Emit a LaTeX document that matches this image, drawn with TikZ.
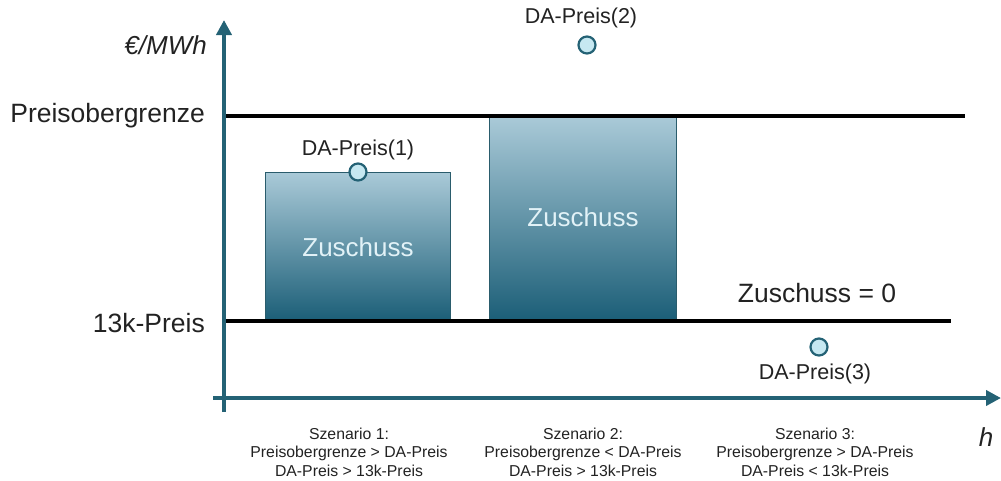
\documentclass[tikz,border=0pt]{standalone}
\usepackage{fontspec}
\setmainfont{Liberation Sans}
\usetikzlibrary{arrows.meta}
\definecolor{axisteal}{HTML}{246275}
\definecolor{boxtop}{HTML}{AACAD8}
\definecolor{boxbot}{HTML}{1B5E77}
\definecolor{boxedge}{HTML}{2A5C6C}
\definecolor{dotfill}{HTML}{C6E8F1}
\definecolor{zutext}{HTML}{E2F2F7}
\definecolor{txt}{HTML}{222222}
\tikzset{
  axisline/.style={draw=axisteal, line width=4.5pt, -{Triangle[length=15pt,width=15pt]}},
  levelline/.style={draw=black, line width=4pt},
  zbox/.style={draw=boxedge, line width=1pt, top color=boxtop, bottom color=boxbot},
  dot/.style={circle, draw=axisteal, line width=2.2pt, fill=dotfill, minimum size=17pt, inner sep=0pt},
  biglabel/.style={font=\fontsize{26.5}{30}\selectfont, text=txt, inner sep=0pt},
  dalabel/.style={font=\fontsize{21.5}{25}\selectfont, text=txt, inner sep=0pt},
  zulabel/.style={font=\fontsize{26}{30}\selectfont, text=zutext, inner sep=0pt},
  scen/.style={font=\fontsize{15.8}{18.5}\selectfont, text=txt, align=center, inner sep=0pt},
}
\begin{document}
\begin{tikzpicture}[x=1pt,y=-1pt]
\useasboundingbox (0,0) rectangle (1001,480);
% boxes
\path[zbox] (265,172) rectangle (450,321);
\path[zbox] (489,116) rectangle (676,321);
\node[zulabel] (z1) at (358,247) {Zuschuss};
\node[zulabel] (z2) at (583,217) {Zuschuss};
% level lines
\coordinate (po1) at (225,116);
\coordinate (po2) at (965,116);
\coordinate (k1) at (225,321);
\coordinate (k2) at (951,321);
\draw[levelline] (po1) -- (po2);
\draw[levelline] (k1) -- (k2);
% axes
\coordinate (yb) at (224,412);
\coordinate (yt) at (224,20);
\coordinate (xl) at (213,398);
\coordinate (xr) at (1001,398);
\draw[axisline] (yb) -- (yt);
\draw[axisline] (xl) -- (xr);
% axis labels
\node[biglabel, anchor=east, font=\fontsize{26}{30}\selectfont\itshape] (yl) at (207,45) {€/MWh};
\node[biglabel, font=\fontsize{26}{30}\selectfont\itshape] (hl) at (986,437) {h};
\node[biglabel, anchor=east] (pl) at (205,116) {Preisobergrenze};
\node[biglabel, anchor=east] (kl) at (205,323) {13k-Preis};
% dots
\node[dot] (d1) at (358,172) {};
\node[dalabel] (d1l) at (358,150) {DA-Preis(1)};
\node[dot] (d2) at (587,45) {};
\node[dalabel] (d2l) at (581,18) {DA-Preis(2)};
\node[dot] (d3) at (819,347) {};
\node[dalabel] (d3l) at (815,374) {DA-Preis(3)};
\node[biglabel] (z0) at (817,293) {Zuschuss = 0};
% scenarios
\node[scen] (s1) at (349,452) {Szenario 1:\\Preisobergrenze > DA-Preis\\DA-Preis > 13k-Preis};
\node[scen] (s2) at (583,452) {Szenario 2:\\Preisobergrenze < DA-Preis\\DA-Preis > 13k-Preis};
\node[scen] (s3) at (815,452) {Szenario 3:\\Preisobergrenze > DA-Preis\\DA-Preis < 13k-Preis};
\end{tikzpicture}
\end{document}
